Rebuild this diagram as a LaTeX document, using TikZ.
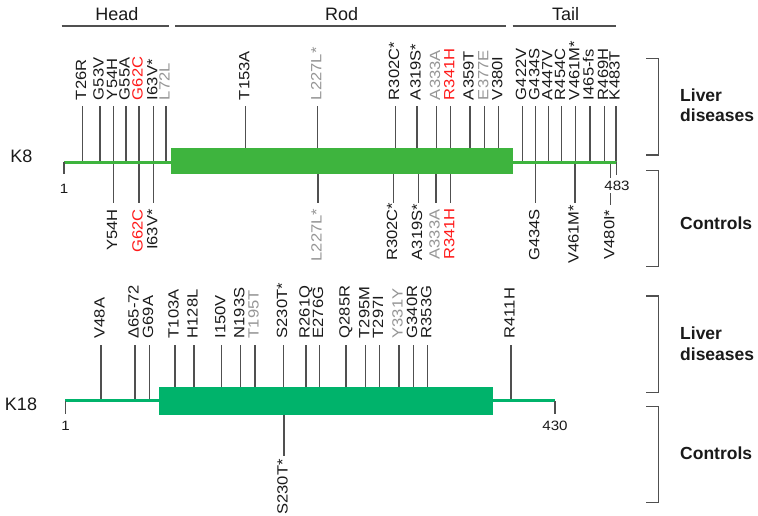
\documentclass[tikz,border=0pt]{standalone}
\usepackage{fontspec}
\setmainfont{Liberation Sans}
\usepackage{graphicx}
\definecolor{k8green}{RGB}{62,180,62}
\definecolor{k18green}{RGB}{0,179,107}
\definecolor{labblack}{RGB}{26,26,26}
\definecolor{labgray}{RGB}{150,150,150}
\definecolor{labred}{RGB}{255,25,25}
\definecolor{stemgray}{RGB}{80,80,80}
\newcommand\labfont{\fontsize{14.8}{16}\selectfont}
\newcommand\sx[1]{\scalebox{1.12}[1]{#1}}
\newcommand\mutlab[8]{% #1 name, #2 x, #3 label y, #4 style, #5 stem y1, #6 stem y2, #7 colour, #8 text
  \node[#4, text=#7] (#1) at (#2+3.7,#3) {\sx{#8}};
  \coordinate (#1a) at (#2,#5);
  \coordinate (#1b) at (#2,#6);
  \draw[stem] (#1a) -- (#1b);
}
\tikzset{
  lab/.style={rotate=90, inner sep=0pt, outer sep=0pt, font=\labfont},
  tl/.style={lab, anchor=base west},
  bl/.style={lab, anchor=base},
  stem/.style={draw=stemgray, line width=1.1pt},
  hline/.style={draw=stemgray, line width=1.3pt},
  hdr/.style={font=\fontsize{18}{20}\selectfont, text=labblack, inner sep=0pt},
  grp/.style={font=\fontsize{17.5}{20.5}\selectfont\bfseries, text=labblack, align=left, anchor=west, inner sep=0pt},
  brk/.style={draw=stemgray, line width=1.2pt},
  num/.style={font=\fontsize{13.5}{15}\selectfont, text=labblack, inner sep=0pt},
  k8line/.style={draw=k8green, line width=3.5pt},
  k18line/.style={draw=k18green, line width=3pt},
  tick/.style={draw=stemgray, line width=1.1pt},
}
\begin{document}
\begin{tikzpicture}[x=1pt,y=-1pt]
\fill[white] (0,0) rectangle (758,515);
\useasboundingbox (0,0) rectangle (758,515);

% headers
\node[hdr] (head) at (117,14) {Head};
\node[hdr] (rod) at (341.7,14) {Rod};
\node[hdr] (tail) at (565.7,14) {Tail};
\coordinate (hd1) at (61.7,26); \coordinate (hd2) at (169.3,26);
\coordinate (rd1) at (175.3,26); \coordinate (rd2) at (506,26);
\coordinate (tl1) at (512.7,26); \coordinate (tl2) at (616,26);
\draw[hline] (hd1) -- (hd2);
\draw[hline] (rd1) -- (rd2);
\draw[hline] (tl1) -- (tl2);

% K8 top labels
\mutlab{t1}{82.3}{100}{tl}{106}{162}{labblack}{T26R}
\mutlab{t2}{100}{100}{tl}{106}{162}{labblack}{G53V}
\mutlab{t3}{113.3}{100}{tl}{106}{162}{labblack}{Y54H}
\mutlab{t4}{126}{100}{tl}{106}{162}{labblack}{G55A}
\mutlab{t5}{139}{100}{tl}{106}{162}{labred}{G62C}
\mutlab{t6}{153.7}{100}{tl}{106}{162}{labblack}{I63V*}
\mutlab{t7}{166}{100}{tl}{106}{162}{labgray}{L72L}
\mutlab{t8}{245.7}{100}{tl}{106}{162}{labblack}{T153A}
\mutlab{t9}{317.7}{100}{tl}{106}{162}{labgray}{L227L*}
\mutlab{t10}{395.3}{100}{tl}{106}{162}{labblack}{R302C*}
\mutlab{t11}{417}{100}{tl}{106}{162}{labblack}{A319S*}
\mutlab{t12}{436.3}{100}{tl}{106}{162}{labgray}{A333A}
\mutlab{t13}{450.7}{100}{tl}{106}{162}{labred}{R341H}
\mutlab{t14}{470}{100}{tl}{106}{162}{labblack}{A359T}
\mutlab{t15}{484.7}{100}{tl}{106}{162}{labgray}{E377E}
\mutlab{t16}{498.7}{100}{tl}{106}{162}{labblack}{V380I}
\mutlab{t17}{522.5}{100}{tl}{106}{162}{labblack}{G422V}
\mutlab{t18}{535.7}{100}{tl}{106}{162}{labblack}{G434S}
\mutlab{t19}{548.7}{100}{tl}{106}{162}{labblack}{A447V}
\mutlab{t20}{561.3}{100}{tl}{106}{162}{labblack}{R454C}
\mutlab{t21}{575.7}{100}{tl}{106}{162}{labblack}{V461M*}
\mutlab{t22}{590}{100}{tl}{106}{162}{labblack}{I465-fs}
\mutlab{t23}{604.3}{100}{tl}{106}{162}{labblack}{R469H}
\mutlab{t24}{616}{100}{tl}{106}{162}{labblack}{K483T}

% K8 bottom labels
\mutlab{b1}{113.3}{230}{bl}{162}{203}{labblack}{Y54H}
\mutlab{b2}{139}{231}{bl}{162}{203}{labred}{G62C}
\mutlab{b3}{153.7}{229.7}{bl}{162}{203}{labblack}{I63V*}
\mutlab{b4}{318}{235}{bl}{162}{203}{labgray}{L227L*}
\mutlab{b5}{393.3}{231.7}{bl}{162}{203}{labblack}{R302C*}
\mutlab{b6}{418.3}{232}{bl}{162}{203}{labblack}{A319S*}
\mutlab{b7}{436}{234.5}{bl}{162}{203}{labgray}{A333A}
\mutlab{b8}{450.7}{234}{bl}{162}{203}{labred}{R341H}
\mutlab{b9}{535.7}{235}{bl}{162}{203}{labblack}{G434S}
\mutlab{b10}{575}{234.5}{bl}{162}{203}{labblack}{V461M*}
\mutlab{b11}{610.7}{234.5}{bl}{162}{205}{labblack}{V480I*}

% K18 top labels
\mutlab{u1}{101}{338.3}{tl}{345}{401}{labblack}{V48A}
\mutlab{u2}{135}{338.3}{tl}{345}{401}{labblack}{Δ65-72}
\mutlab{u3}{149.3}{338.3}{tl}{345}{401}{labblack}{G69A}
\mutlab{u4}{175}{338.3}{tl}{345}{401}{labblack}{T103A}
\mutlab{u5}{194}{338.3}{tl}{345}{401}{labblack}{H128L}
\mutlab{u6}{221.7}{338.3}{tl}{345}{401}{labblack}{I150V}
\mutlab{u7}{240.7}{338.3}{tl}{345}{401}{labblack}{N193S}
\mutlab{u8}{255}{338.3}{tl}{345}{401}{labgray}{T195T}
\mutlab{u9}{283.3}{338.3}{tl}{345}{401}{labblack}{S230T*}
\mutlab{u10}{306}{338.3}{tl}{345}{401}{labblack}{R261Q}
\mutlab{u11}{319.3}{338.3}{tl}{345}{401}{labblack}{E276G}
\mutlab{u12}{346}{338.3}{tl}{345}{401}{labblack}{Q285R}
\mutlab{u13}{365.7}{338.3}{tl}{345}{401}{labblack}{T295M}
\mutlab{u14}{379.3}{338.3}{tl}{345}{401}{labblack}{T297I}
\mutlab{u15}{399}{338.3}{tl}{345}{401}{labgray}{Y331Y}
\mutlab{u16}{413.3}{338.3}{tl}{345}{401}{labblack}{G340R}
\mutlab{u17}{427.7}{338.3}{tl}{345}{401}{labblack}{R353G}
\mutlab{u18}{511}{338.3}{tl}{345}{401}{labblack}{R411H}

% K18 bottom label
\mutlab{s1}{284}{487}{bl}{401}{456}{labblack}{S230T*}

% K8 bar
\coordinate (k8s) at (64,162.3);
\coordinate (k8e) at (616.7,162.3);
\draw[k8line] (k8s) -- (k8e);
\node[fill=k8green, inner sep=0pt, minimum width=342pt, minimum height=26pt] (k8rod) at (341.7,161) {};
\coordinate (k8t1a) at (64,162); \coordinate (k8t1b) at (64,174);
\draw[tick] (k8t1a) -- (k8t1b);
\coordinate (k8t2a) at (616.7,162); \coordinate (k8t2b) at (616.7,175);
\draw[tick] (k8t2a) -- (k8t2b);
\node[num] (k8n1) at (64,189) {\sx{1}};
\node[num, fill=white, inner sep=2.5pt] (k8n2) at (617,185.5) {\sx{483}};
\node[hdr] (k8) at (21.3,156.7) {K8};

% K18 bar
\coordinate (k18s) at (65,400.8);
\coordinate (k18e) at (555.3,400.8);
\draw[k18line] (k18s) -- (k18e);
\node[fill=k18green, inner sep=0pt, minimum width=334pt, minimum height=27.2pt] (k18rod) at (325.5,400.9) {};
\coordinate (k18t1a) at (65.5,401); \coordinate (k18t1b) at (65.5,414);
\draw[tick] (k18t1a) -- (k18t1b);
\coordinate (k18t2a) at (555,401); \coordinate (k18t2b) at (555,414);
\draw[tick] (k18t2a) -- (k18t2b);
\node[num] (k18n1) at (65.5,426) {\sx{1}};
\node[num] (k18n2) at (555,426) {\sx{430}};
\node[hdr] (k18) at (21,404) {K18};

% brackets
\coordinate (bA1) at (646,58.3); \coordinate (bA2) at (658.3,58.3);
\coordinate (bA3) at (658.3,155); \coordinate (bA4) at (646,155);
\draw[brk] (bA1) -- (bA2) -- (bA3) -- (bA4);
\coordinate (bB1) at (646,170.7); \coordinate (bB2) at (658.3,170.7);
\coordinate (bB3) at (658.3,266.7); \coordinate (bB4) at (646,266.7);
\draw[brk] (bB1) -- (bB2) -- (bB3) -- (bB4);
\coordinate (bC1) at (646,296); \coordinate (bC2) at (658.3,296);
\coordinate (bC3) at (658.3,392.7); \coordinate (bC4) at (646,392.7);
\draw[brk] (bC1) -- (bC2) -- (bC3) -- (bC4);
\coordinate (bD1) at (646,406.7); \coordinate (bD2) at (658.3,406.7);
\coordinate (bD3) at (658.3,502.7); \coordinate (bD4) at (646,502.7);
\draw[brk] (bD1) -- (bD2) -- (bD3) -- (bD4);

\node[grp] (g1) at (680,105) {Liver\\diseases};
\node[grp] (g2) at (680,223.5) {Controls};
\node[grp] (g3) at (680,343.5) {Liver\\diseases};
\node[grp] (g4) at (680,453.5) {Controls};
\end{tikzpicture}
\end{document}
